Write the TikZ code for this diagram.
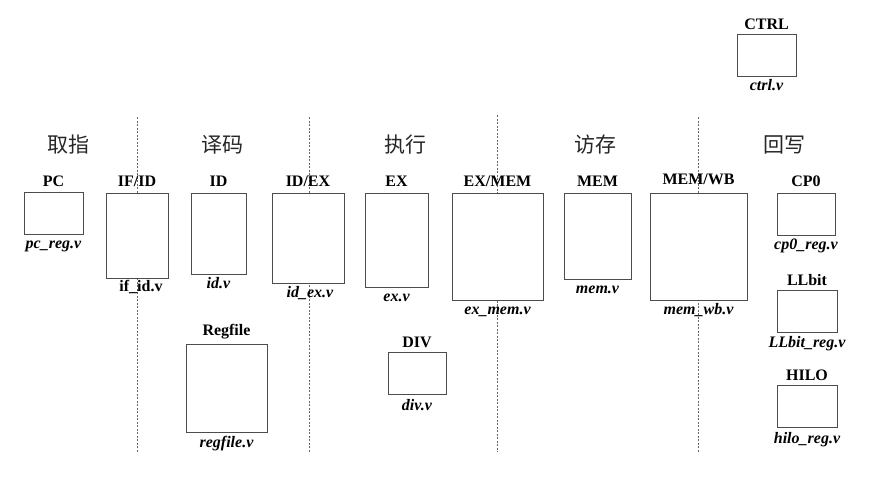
\documentclass[tikz,border=0pt]{standalone}
\usepackage{fontspec}
\setmainfont{Liberation Serif}
\newfontfamily\cjk{Noto Sans CJK SC}
\begin{document}
\begin{tikzpicture}[x=1pt,y=-1pt,
  box/.style={draw=black!70, line width=0.9pt, inner sep=0pt, fill=white},
  title/.style={font=\bfseries\fontsize{16}{16}\selectfont, anchor=base, inner sep=0pt},
  file/.style={font=\bfseries\itshape\fontsize{16}{16}\selectfont, anchor=base, inner sep=0pt},
  fileup/.style={font=\bfseries\fontsize{16}{16}\selectfont, anchor=base, inner sep=0pt},
  stage/.style={font=\cjk\fontsize{21}{21}\selectfont, text=black!85, inner sep=0pt},
  sep/.style={draw=black!60, line width=0.7pt, dash pattern=on 2pt off 1.5pt}]
\useasboundingbox (0,0) rectangle (892,480);

% stage separators
\coordinate (d1t) at (137,117); \coordinate (d1b) at (137,452);
\coordinate (d2t) at (309,117); \coordinate (d2b) at (309,452);
\coordinate (d3t) at (497,115); \coordinate (d3b) at (497,452);
\coordinate (d4t) at (698,117); \coordinate (d4b) at (698,452);
\draw[sep] (d1t) -- (d1b);
\draw[sep] (d2t) -- (d2b);
\draw[sep] (d3t) -- (d3b);
\draw[sep] (d4t) -- (d4b);

% stage names
\node[stage] (s1) at (68,145) {取指};
\node[stage] (s2) at (222,145) {译码};
\node[stage] (s3) at (405,145) {执行};
\node[stage] (s4) at (595,145) {访存};
\node[stage] (s5) at (784,145) {回写};

% boxes
\node[box, minimum width=59pt, minimum height=42pt] (ctrl) at (766.5,55) {};
\node[box, minimum width=59pt, minimum height=42pt] (pc) at (53.5,213) {};
\node[box, minimum width=62pt, minimum height=85pt] (ifid) at (137,235.5) {};
\node[box, minimum width=55pt, minimum height=81pt] (id) at (218.5,233.5) {};
\node[box, minimum width=72pt, minimum height=90pt] (idex) at (308,238) {};
\node[box, minimum width=63pt, minimum height=94pt] (ex) at (396.5,240) {};
\node[box, minimum width=91pt, minimum height=107pt] (exmem) at (497.5,246.5) {};
\node[box, minimum width=67pt, minimum height=86pt] (mem) at (597.5,236) {};
\node[box, minimum width=97pt, minimum height=107pt] (memwb) at (698.5,246.5) {};
\node[box, minimum width=58pt, minimum height=42pt] (cp0) at (806,214) {};
\node[box, minimum width=60pt, minimum height=42pt] (llbit) at (807,311) {};
\node[box, minimum width=60pt, minimum height=42pt] (hilo) at (807,406) {};
\node[box, minimum width=81pt, minimum height=88pt] (regfile) at (226.5,388) {};
\node[box, minimum width=58pt, minimum height=42pt] (div) at (417,373) {};

% titles
\node[title] (tctrl) at ([yshift=4pt]ctrl.north) {CTRL};
\node[title] (tpc) at ([yshift=5pt]pc.north) {PC};
\node[title] (tifid) at ([yshift=6pt]ifid.north) {IF/ID};
\node[title] (tid) at ([yshift=6pt]id.north) {ID};
\node[title] (tidex) at ([yshift=6pt]idex.north) {ID/EX};
\node[title] (tex) at ([yshift=6pt]ex.north) {EX};
\node[title] (texmem) at ([yshift=6pt]exmem.north) {EX/MEM};
\node[title] (tmem) at ([yshift=6pt]mem.north) {MEM};
\node[title] (tmemwb) at ([yshift=8pt]memwb.north) {MEM/WB};
\node[title] (tcp0) at ([yshift=6pt]cp0.north) {CP0};
\node[title] (tllbit) at ([yshift=4pt]llbit.north) {LLbit};
\node[title] (thilo) at ([yshift=4pt]hilo.north) {HILO};
\node[title] (tregfile) at ([yshift=8pt]regfile.north) {Regfile};
\node[title] (tdiv) at ([yshift=4pt]div.north) {DIV};

% file names
\node[file] (fctrl) at ([yshift=-14pt]ctrl.south) {ctrl.v};
\node[file] (fpc) at ([yshift=-14pt]pc.south) {pc\_reg.v};
\node[fileup] (fifid) at ([xshift=4pt,yshift=-13pt]ifid.south) {if\_id.v};
\node[file] (fid) at ([yshift=-14pt]id.south) {id.v};
\node[file] (fidex) at ([xshift=2pt,yshift=-14pt]idex.south) {id\_ex.v};
\node[file] (fex) at ([yshift=-14pt]ex.south) {ex.v};
\node[file] (fexmem) at ([yshift=-14pt]exmem.south) {ex\_mem.v};
\node[file] (fmem) at ([yshift=-14pt]mem.south) {mem.v};
\node[file] (fmemwb) at ([yshift=-14pt]memwb.south) {mem\_wb.v};
\node[file] (fcp0) at ([yshift=-14pt]cp0.south) {cp0\_reg.v};
\node[file] (fllbit) at ([yshift=-15pt]llbit.south) {LLbit\_reg.v};
\node[file] (fhilo) at ([yshift=-16pt]hilo.south) {hilo\_reg.v};
\node[file] (fregfile) at ([yshift=-15pt]regfile.south) {regfile.v};
\node[file] (fdiv) at ([yshift=-16pt]div.south) {div.v};
\end{tikzpicture}
\end{document}
